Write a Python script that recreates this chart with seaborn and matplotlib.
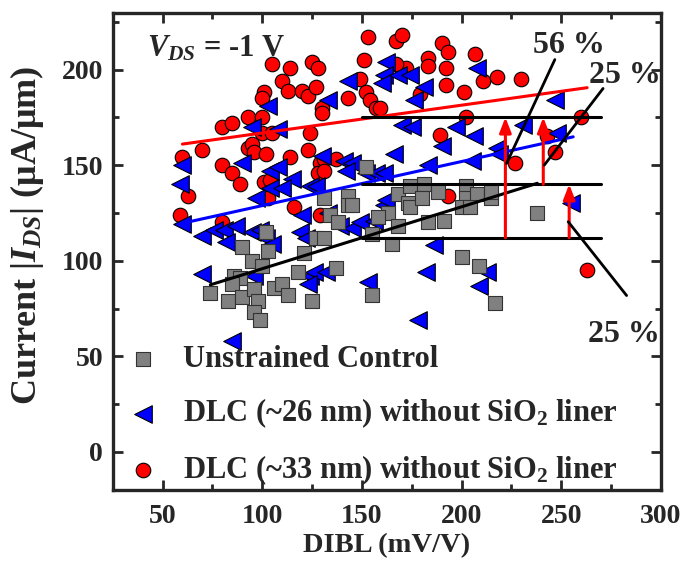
import pandas as pd
import matplotlib
matplotlib.use("Agg")
import matplotlib.pyplot as plt
from matplotlib.ticker import MultipleLocator
import seaborn as sns

# ---- data (DIBL mV/V, |I_DS| uA/um) ----
grey_x = [152, 131, 143, 143, 145, 134, 138, 127, 131, 121, 118, 137, 102, 103, 95, 90, 100,
          86, 89, 85, 74, 83, 90, 96, 98, 96, 99, 106, 110, 113, 125, 155, 168, 163, 158, 155,
          165, 168, 174, 181, 173, 174, 180, 188, 202, 202, 208, 200, 204, 215, 215, 183, 191,
          200, 209, 217, 238]
grey_y = [149, 133, 134, 129, 129, 124, 120, 112, 112, 104, 94, 96, 115, 105, 100, 107, 97,
          92, 91, 88, 83, 79, 81, 85, 79, 73, 69, 86, 88, 82, 79, 82, 135, 125, 123, 114,
          109, 118, 139, 140, 130, 128, 133, 136, 139, 133, 135, 128, 128, 133, 136, 120, 121,
          102, 97, 78, 125]

blue_x = [162, 161, 160, 143, 133, 103, 95, 108, 60, 90, 130, 141, 145, 166, 168, 174, 181,
          176, 208, 247, 170, 175, 197, 190, 206, 218, 231, 248, 183, 205, 59, 60, 104, 108,
          115, 124, 127, 97, 104, 120, 119, 152, 157, 161, 70, 76, 81, 87, 95, 102, 105, 82,
          99, 70, 96, 124, 126, 132, 123, 139, 145, 149, 156, 161, 153, 85, 110, 122, 142,
          133, 162, 186, 182, 213, 209, 178, 255, 219]
blue_y = [204, 197, 193, 194, 184, 181, 170, 169, 150, 151, 155, 152, 151, 156, 197, 197, 191,
          184, 201, 184, 171, 170, 170, 160, 165, 159, 171, 167, 150, 152, 140, 119, 147, 149,
          143, 139, 139, 133, 138, 124, 115, 146, 146, 146, 113, 116, 116, 118, 115, 112, 109, 110,
          116, 93, 92, 92, 94, 94, 88, 118, 117, 120, 121, 129, 89, 58, 138, 112, 147,
          125, 132, 108, 94, 94, 87, 69, 130, 156]

red_x = [153, 167, 170, 105, 114, 125, 128, 151, 110, 113, 120, 123, 127, 101, 100, 143, 149,
         152, 154, 157, 130, 130, 80, 85, 93, 100, 100, 105, 124, 93, 95, 96, 102, 70, 60, 80,
         85, 89, 114, 123, 129, 131, 190, 193, 183, 183, 192, 192, 201, 207, 211, 218, 230,
         260, 227, 243, 247, 202, 189, 159, 263, 193, 63, 59, 80, 101, 104, 103, 116, 129,
         128, 131, 172, 167, 179, 137]
red_y = [217, 215, 218, 203, 201, 204, 201, 205, 194, 189, 189, 186, 191, 188, 185, 185, 195,
         188, 184, 180, 180, 177, 170, 172, 175, 175, 167, 167, 167, 159, 161, 157, 156, 158, 154, 150,
         146, 140, 154, 158, 151, 153, 214, 209, 206, 202, 201, 192, 188, 208, 194, 196, 195,
         175, 151, 165, 157, 175, 166, 180, 95, 134, 134, 124, 120, 141, 142, 133, 128, 124,
         146, 147, 201, 203, 187, 153]

# trend lines (end points)
fit_grey_x, fit_grey_y = [74, 238], [87.4, 140.5]
fit_blue_x, fit_blue_y = [60, 256], [119.6, 164.8]
fit_red_x, fit_red_y = [60, 263], [161, 190.5]

# reference levels and the increases between them
levels = [112, 140, 175]
level_x = [150, 270]
arrow_x = [222, 241, 254]
arrow_from = [112, 140, 112]
arrow_to = [175, 175, 140]

labels = ["Unstrained Control",
          r"DLC (~26 nm) without SiO$_2$ liner",
          r"DLC (~33 nm) without SiO$_2$ liner"]

sns.set_style("ticks")
plt.rcParams["font.family"] = ["Liberation Serif", "DejaVu Serif"]
plt.rcParams["font.weight"] = "bold"
plt.rcParams["mathtext.fontset"] = "custom"
plt.rcParams["mathtext.rm"] = "Liberation Serif:bold"
plt.rcParams["mathtext.bf"] = "Liberation Serif:bold"
plt.rcParams["mathtext.it"] = "Liberation Serif:italic:bold"

fig = plt.figure(figsize=(6.87, 5.70), dpi=100)
ax = fig.add_axes([0.164, 0.140, 0.798, 0.837])

red = pd.DataFrame({"x": red_x, "y": red_y})
blue = pd.DataFrame({"x": blue_x, "y": blue_y})
grey = pd.DataFrame({"x": grey_x, "y": grey_y})

sns.scatterplot(data=red, x="x", y="y", ax=ax, marker="o", s=110, color="#ff0000",
                edgecolor="black", linewidth=0.8, label=labels[2], zorder=2)
sns.scatterplot(data=blue, x="x", y="y", ax=ax, marker="<", s=160, color="#0000ff",
                edgecolor="black", linewidth=0.8, label=labels[1], zorder=3)
sns.scatterplot(data=grey, x="x", y="y", ax=ax, marker="s", s=90, color="#808080",
                edgecolor="#333333", linewidth=0.8, label=labels[0], zorder=4)

# trend lines
ax.plot(fit_red_x, fit_red_y, color="#ff0000", lw=2.2, zorder=6)
ax.plot(fit_blue_x, fit_blue_y, color="#0000ff", lw=2.2, zorder=6)
ax.plot(fit_grey_x, fit_grey_y, color="black", lw=2.2, zorder=6)

for lv in levels:
    ax.plot(level_x, [lv, lv], color="black", lw=2.2, zorder=6)

for xa, y0, y1 in zip(arrow_x, arrow_from, arrow_to):
    ax.annotate("", xy=(xa, y1), xytext=(xa, y0),
                arrowprops=dict(arrowstyle="-|>,head_width=0.35,head_length=0.9",
                                color="#ff0000", lw=2.2, shrinkA=0, shrinkB=0), zorder=7)

# percentage labels with leader lines
ax.plot([246.8, 222.6], [205.2, 150.9], color="black", lw=2, zorder=7)
ax.plot([271, 241.5], [190.1, 150], color="black", lw=2, zorder=7)
ax.plot([253.5, 282.8], [120.4, 81.8], color="black", lw=2, zorder=7)
ax.text(254, 212.7, "56 %", fontsize=23, ha="center", va="center")
ax.text(282, 197, "25 %", fontsize=23, ha="center", va="center")
ax.text(281.5, 61.3, "25 %", fontsize=23, ha="center", va="center")

ax.text(42, 211, r"$V_{DS}$ = -1 V", fontsize=22, va="center")

ax.set_xlim(25, 300)
ax.set_ylim(-20, 229.5)
ax.xaxis.set_minor_locator(MultipleLocator(25))
ax.yaxis.set_minor_locator(MultipleLocator(25))
ax.set_xticks([50, 100, 150, 200, 250, 300])
ax.set_yticks([0, 50, 100, 150, 200])
ax.tick_params(which="both", direction="in", top=True, right=True, width=2, labelsize=20)
ax.tick_params(which="major", length=7)
ax.tick_params(which="minor", length=4)
ax.tick_params(axis="x", which="major", pad=10)
ax.tick_params(axis="y", which="major", pad=7)
for sp in ax.spines.values():
    sp.set_linewidth(2.4)

ax.set_xlabel("DIBL (mV/V)", fontsize=20.5, fontweight="bold", labelpad=3)
ax.set_ylabel(r"Current |$I_{DS}$| ($\mathregular{\mu}$A/$\mathregular{\mu}$m)",
              fontsize=26, fontweight="bold")
ax.yaxis.set_label_coords(-0.122, 0.535)

handles, labs = ax.get_legend_handles_labels()
order = [labs.index(l) for l in labels]
ax.legend([handles[i] for i in order], labels, loc="lower left",
          bbox_to_anchor=(0.0, -0.025), frameon=False, fontsize=22,
          handlelength=1.0, handletextpad=0.8, labelspacing=0.75,
          borderpad=0.4, borderaxespad=0.1)

plt.savefig("out.png", dpi=100)
plt.close()
